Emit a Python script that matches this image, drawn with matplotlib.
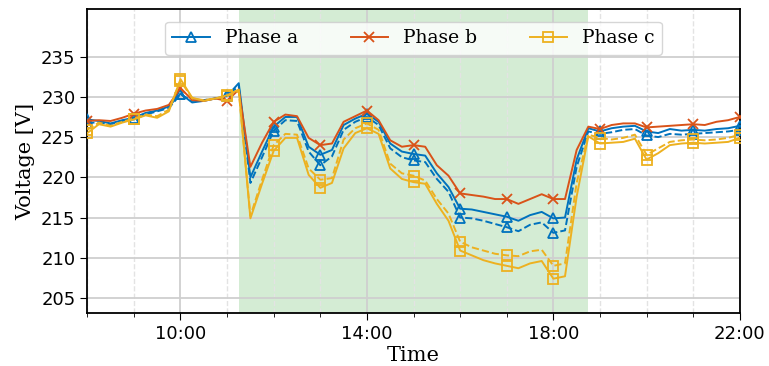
import numpy as np
import pandas as pd
import matplotlib
matplotlib.use("Agg")
import matplotlib.pyplot as plt
import matplotlib.dates as mdates

# 15-minute samples, 08:00 - 22:00
times = pd.date_range("2023-06-01 08:00", "2023-06-01 22:00", freq="15min")

phase_a = [227.2, 227.0, 226.7, 227.1,
           227.4, 228.0, 228.3, 228.8,
           230.4, 229.3, 229.5, 229.8,
           230.1, 231.7, 220.0, 223.2,
           226.3, 227.5, 227.5, 223.8,
           222.8, 223.4, 226.5, 227.3,
           227.9, 226.9, 224.2, 223.2,
           222.9, 222.7, 220.5, 218.8,
           216.1, 216.0, 215.7, 215.4,
           215.1, 214.6, 215.3, 215.7,
           214.9, 215.0, 222.2, 226.1,
           225.7, 226.1, 226.3, 226.4,
           225.7, 225.5, 226.0, 225.8,
           225.9, 225.8, 226.0, 226.1,
           226.4]
phase_a_dashed = [226.8, 226.8, 226.6, 227.0,
                  227.2, 227.8, 228.2, 228.6,
                  230.3, 229.5, 229.6, 229.8,
                  230.2, 231.3, 219.3, 222.5,
                  225.8, 227.1, 227.0, 223.2,
                  221.5, 222.6, 225.9, 226.9,
                  227.5, 226.5, 223.6, 222.5,
                  222.1, 221.9, 219.8, 218.2,
                  215.0, 214.9, 214.6, 214.2,
                  213.8, 213.3, 214.1, 214.4,
                  213.1, 213.4, 221.3, 225.7,
                  225.4, 225.6, 225.9, 226.0,
                  225.2, 225.0, 225.4, 225.3,
                  225.4, 225.5, 225.6, 225.7,
                  225.9]
phase_b = [227.0, 227.1, 227.0, 227.4,
           227.9, 228.3, 228.5, 229.0,
           231.1, 229.6, 229.5, 229.8,
           229.5, 230.9, 221.3, 224.3,
           226.9, 227.8, 227.6, 224.9,
           224.0, 224.2, 226.9, 227.6,
           228.3, 227.1, 224.6, 223.8,
           224.0, 223.8, 221.5, 220.2,
           218.0, 217.8, 217.6, 217.3,
           217.3, 216.7, 217.3, 217.9,
           217.3, 217.3, 223.4, 226.3,
           226.0, 226.5, 226.7, 226.7,
           226.2, 226.3, 226.4, 226.5,
           226.6, 226.5, 226.9, 227.1,
           227.5]
phase_c = [225.5, 226.6, 226.3, 226.8,
           227.2, 227.7, 227.4, 228.2,
           232.2, 229.9, 229.5, 229.8,
           230.2, 230.9, 214.9, 219.2,
           223.3, 224.9, 224.9, 220.3,
           218.7, 219.3, 223.6, 225.5,
           226.1, 225.4, 221.1, 219.8,
           219.4, 219.2, 216.7, 214.6,
           210.9, 210.3, 209.7, 209.3,
           209.0, 208.7, 209.3, 209.6,
           207.4, 207.7, 217.6, 225.1,
           224.2, 224.3, 224.4, 224.8,
           222.2, 223.0, 224.0, 224.2,
           224.3, 224.2, 224.3, 224.4,
           224.9]
phase_c_dashed = [225.9, 226.8, 226.4, 226.9,
                  227.3, 227.8, 227.6, 228.4,
                  232.0, 229.8, 229.6, 229.8,
                  230.1, 230.7, 215.2, 219.7,
                  224.0, 225.4, 225.3, 221.1,
                  219.7, 219.9, 224.7, 226.1,
                  226.7, 225.9, 221.7, 220.5,
                  220.2, 219.6, 217.3, 215.5,
                  212.0, 211.3, 210.9, 210.5,
                  210.3, 210.2, 210.8, 211.0,
                  209.0, 209.3, 219.3, 225.3,
                  224.9, 224.7, 224.9, 225.3,
                  222.8, 223.6, 224.4, 224.6,
                  224.7, 224.6, 224.7, 224.9,
                  225.3]

event_start = pd.Timestamp("2023-06-01 11:15")
event_end = pd.Timestamp("2023-06-01 18:45")
major_ticks = pd.to_datetime(["2023-06-01 10:00", "2023-06-01 14:00",
                              "2023-06-01 18:00", "2023-06-01 22:00"])

c_a, c_b, c_c = "#0072BD", "#D95319", "#EDB120"
serif = ["DejaVu Serif"]

fig = plt.figure(figsize=(7.69, 3.66), dpi=100)
ax = fig.add_axes([0.1135, 0.144, 0.8485, 0.831])

ax.axvspan(event_start, event_end, color="#2ca02c", alpha=0.2, lw=0, zorder=1)

mk = dict(markevery=4, markersize=7.5, markerfacecolor="none", markeredgewidth=1.3, lw=1.4)
ax.plot(times, phase_a, "-^", color=c_a, label="Phase a", zorder=3, **mk)
ax.plot(times, phase_a_dashed, "--^", color=c_a, zorder=3, **mk)
ax.plot(times, phase_b, "-x", color=c_b, label="Phase b", zorder=3, **mk)
ax.plot(times, phase_c, "-s", color=c_c, label="Phase c", zorder=3, **mk)
ax.plot(times, phase_c_dashed, "--s", color=c_c, zorder=3, **mk)

ax.set_xlim(times[0], times[-1])
ax.set_ylim(203.1, 240.9)
ax.set_yticks([205, 210, 215, 220, 225, 230, 235])
ax.set_xticks(major_ticks)
ax.xaxis.set_minor_locator(mdates.HourLocator())
ax.xaxis.set_major_formatter(mdates.DateFormatter("%H:%M"))

ax.grid(True, which="major", color="#cfcfcf", lw=1.3)
ax.grid(True, which="minor", axis="x", color="#e3e3e3", lw=1.0, ls="--")
ax.tick_params(axis="both", which="major", labelsize=13, length=5)
ax.tick_params(axis="x", which="minor", length=3)
for s in ax.spines.values():
    s.set_linewidth(1.3)

ax.set_xlabel("Time", fontsize=15, family=serif, labelpad=2)
ax.set_ylabel("Voltage [V]", fontsize=15, family=serif)

ax.legend(loc="upper center", ncol=3, prop={"family": serif, "size": 13.5},
          columnspacing=2.8, bbox_to_anchor=(0.5, 0.99))

fig.savefig("out.png", dpi=100)
